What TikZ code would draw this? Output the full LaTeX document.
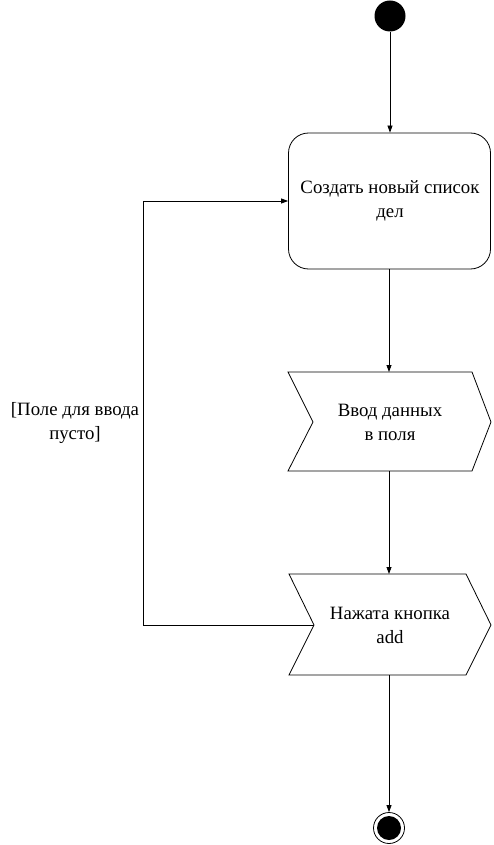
\documentclass[tikz,border=0pt]{standalone}
\usepackage{fontspec}
\setmainfont{Liberation Serif}
\usetikzlibrary{arrows.meta}
\begin{document}
\begin{tikzpicture}[x=1pt,y=-1pt,
  line/.style={draw=black,line width=0.8pt},
  arr/.style={line,-{Triangle[length=7pt,width=5pt]}},
  lbl/.style={font=\fontsize{18.8}{24}\selectfont,align=center,inner sep=0pt}]
\useasboundingbox (0,0) rectangle (493,845);
% start
\node[circle,fill=black,minimum size=31pt,inner sep=0pt] (start) at (390,16) {};
% rounded rect
\node[line,rounded corners=20pt,minimum width=202pt,minimum height=136pt,inner sep=0pt] (create) at (389.5,201) {};
\node[lbl] (createtxt) at (390,201) {Создать новый список\\дел};
% shape 1
\draw[line] (288,372) coordinate (s1tl) -- (472,372) -- (491,422) coordinate (s1r) -- (472,471) -- (288,471) -- (313,422) coordinate (s1l) -- cycle;
\coordinate (s1top) at (389,372);
\coordinate (s1bot) at (389,471);
\node[lbl] (s1txt) at (390,422) {Ввод данных\\в поля};
% shape 2
\draw[line] (289,574) -- (466,574) -- (491,625) -- (466,675) -- (289,675) -- (314,625) coordinate (s2l) -- cycle;
\coordinate (s2top) at (389,574);
\coordinate (s2bot) at (389,675);
\node[lbl] (s2txt) at (390,625) {Нажата кнопка\\add};
% end
\node[circle,draw=black,line width=0.8pt,minimum size=31pt,inner sep=0pt] (end) at (389,828) {};
\node[circle,fill=black,minimum size=24pt,inner sep=0pt] (endin) at (389,828) {};
% connectors
\draw[arr] (start) -- (create.north -| start);
\draw[arr] (create.south -| s1top) -- (s1top);
\draw[arr] (s1bot) -- (s2top);
\draw[arr] (s2bot) -- (end);
\coordinate (c1) at (143,625);
\coordinate (c2) at (143,201);
\draw[arr] (s2l) -- (c1) -- (c2) -- (create.west);
\node[lbl] (guard) at (75,423) {[Поле для ввода\\пусто]};
\end{tikzpicture}
\end{document}
